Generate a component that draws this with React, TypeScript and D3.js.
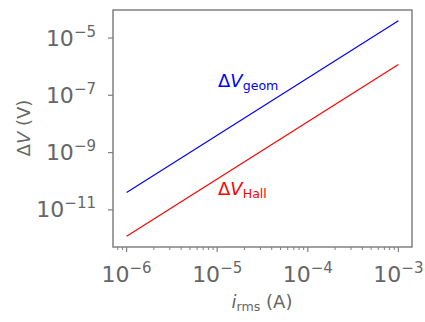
import * as d3 from "d3";

// currents (A) and the two voltage curves (V)
const currents = [1e-6, 1e-5, 1e-4, 1e-3];
const dvGeom = [4e-11, 4e-9, 4e-7, 4e-5];
const dvHall = [1.2e-12, 1.2e-10, 1.2e-8, 1.2e-6];

const xMajor = [-6, -5, -4, -3];
const yMajor = [-5, -7, -9, -11];

const W = 425;
const H = 322;
const margin = { left: 113, right: 13, top: 10, bottom: 75 };
const gray = "#666666";
const font = "DejaVu Sans, sans-serif";

function logPad(vals: number[]) {
  const lo = Math.log10(d3.min(vals)!);
  const hi = Math.log10(d3.max(vals)!);
  const p = (hi - lo) * 0.05;
  return [Math.pow(10, lo - p), Math.pow(10, hi + p)];
}

export default function App() {
  const x = d3.scaleLog().domain(logPad(currents)).range([margin.left, W - margin.right]);
  const y = d3
    .scaleLog()
    .domain(logPad([...dvGeom, ...dvHall]))
    .range([H - margin.bottom, margin.top]);

  const line = (vals: number[]) =>
    d3
      .line<number>()
      .x((_, i) => x(currents[i]))
      .y((d) => y(d))(vals) as string;

  const [x0, x1] = x.domain();
  const minor: number[] = [];
  for (let e = -7; e <= -3; e++) {
    for (let m = 2; m <= 9; m++) {
      const v = m * Math.pow(10, e);
      if (v >= x0 && v <= x1) minor.push(v);
    }
  }

  const bottom = H - margin.bottom;

  return (
    <svg
      width={W}
      height={H}
      style={{ position: "absolute", left: 0, top: 0, background: "#fff" }}
      fontFamily={font}
    >
      <path d={line(dvGeom)} fill="none" stroke="#0000ff" strokeWidth={1.2} />
      <path d={line(dvHall)} fill="none" stroke="#ff0000" strokeWidth={1.2} />

      <rect
        x={margin.left}
        y={margin.top}
        width={W - margin.left - margin.right}
        height={H - margin.top - margin.bottom}
        fill="none"
        stroke="#808080"
        strokeWidth={1.5}
      />

      {minor.map((v) => (
        <line key={v} x1={x(v)} x2={x(v)} y1={bottom} y2={bottom + 3} stroke="#808080" strokeWidth={1} />
      ))}
      {xMajor.map((e) => (
        <g key={e}>
          <line x1={x(Math.pow(10, e))} x2={x(Math.pow(10, e))} y1={bottom} y2={bottom + 5} stroke="#808080" strokeWidth={1.2} />
          <text x={x(Math.pow(10, e))} y={281.5} textAnchor="middle" fill={gray} fontSize={22}>
            10<tspan dy={-9} fontSize={15}>{"\u2212" + -e}</tspan>
          </text>
        </g>
      ))}
      {yMajor.map((e) => (
        <g key={e}>
          <line x1={margin.left - 5} x2={margin.left} y1={y(Math.pow(10, e))} y2={y(Math.pow(10, e))} stroke="#808080" strokeWidth={1.2} />
          <text x={96} y={y(Math.pow(10, e)) + 7.5} textAnchor="end" fill={gray} fontSize={22}>
            10<tspan dy={-9} fontSize={15}>{"\u2212" + -e}</tspan>
          </text>
        </g>
      ))}

      <text
        transform={`translate(30,128) rotate(-90)`}
        textAnchor="middle"
        fill={gray}
        fontSize={18}
      >
        Δ<tspan fontStyle="italic">V</tspan> (V)
      </text>
      <text x={262} y={308} textAnchor="middle" fill={gray} fontSize={18}>
        <tspan fontStyle="italic">i</tspan>
        <tspan fontSize={12.6} dy={3}>rms</tspan>
        <tspan dy={-3}> (A)</tspan>
      </text>

      <text x={218} y={87} fill="#0000ff" fontSize={18}>
        Δ<tspan fontStyle="italic">V</tspan>
        <tspan fontSize={12.6} dy={3}>geom</tspan>
      </text>
      <text x={218} y={195} fill="#ff0000" fontSize={18}>
        Δ<tspan fontStyle="italic">V</tspan>
        <tspan fontSize={12.6} dy={3}>Hall</tspan>
      </text>
    </svg>
  );
}
